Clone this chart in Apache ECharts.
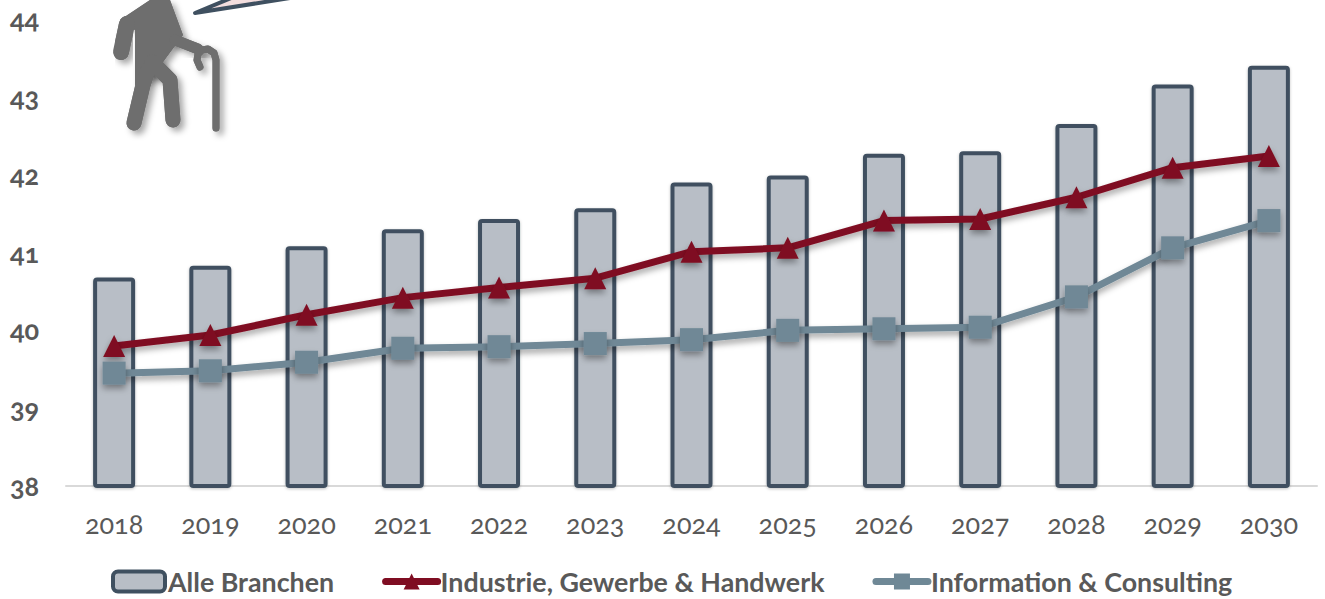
<!DOCTYPE html>
<html>
<head>
<meta charset="utf-8">
<script src="https://cdn.jsdelivr.net/npm/echarts@6/dist/echarts.min.js"></script>
<style>
html, body { margin: 0; padding: 0; background: #fff; }
#main { width: 1325px; height: 599px; }
/* zrender writes a font shorthand on each text, so this has to be important */
#main text { font-feature-settings: "onum" 1 !important; font-variant-numeric: oldstyle-nums !important; }
</style>
</head>
<body>
<div id="main"></div>
<script>
var years = ['2018', '2019', '2020', '2021', '2022', '2023', '2024', '2025', '2026', '2027', '2028', '2029', '2030'];
var alleBranchen = [40.68, 40.83, 41.08, 41.3, 41.43, 41.57, 41.9, 41.99, 42.27, 42.3, 42.65, 43.16, 43.4];
var industrie = [39.8, 39.94, 40.2, 40.42, 40.55, 40.67, 41.01, 41.06, 41.41, 41.43, 41.71, 42.09, 42.24];
var consulting = [39.45, 39.48, 39.59, 39.77, 39.79, 39.83, 39.88, 40.0, 40.02, 40.04, 40.43, 41.06, 41.41];

var fontName = 'Lato';
var grey = '#595959';
var iconGrey = '#6e6e6e';
var iconShadow = { shadowBlur: 6, shadowOffsetX: 4, shadowOffsetY: 4, shadowColor: 'rgba(0,0,0,0.35)' };

var torso = [[120, 20], [150, 0], [170, 0], [183, 35], [163, 62], [163, 72], [135, 85], [135, 30]];
var limbs = [
    { points: [[127, 24], [121, 52]], width: 16 },
    { points: [[148, 70], [143, 85], [134, 123]], width: 15 },
    { points: [[152, 62], [170, 80], [173, 120]], width: 15 },
    { points: [[175, 40], [198, 49]], width: 11 },
    { points: [[216, 128], [216, 60], [214, 53], [208, 49], [202, 50], [198, 54], [197, 60], [200, 67]], width: 7 }
];

// shadow pass first, then the flat figure on top so the parts don't shade each other
function figure(shadow) {
    var els = [{
        type: 'polygon',
        shape: { points: torso },
        style: Object.assign({ fill: iconGrey }, shadow)
    }];
    limbs.forEach(function(l) {
        els.push({
            type: 'polyline',
            shape: { points: l.points },
            style: Object.assign({ fill: 'none', stroke: iconGrey, lineWidth: l.width, lineCap: 'round', lineJoin: 'round' }, shadow)
        });
    });
    return els;
}

var myChart = echarts.init(document.getElementById('main'), null, { renderer: 'svg' });
var option = {
    animation: false,
    textStyle: { fontFamily: fontName },
    grid: { left: 66, right: 8, top: 19, bottom: 113 },
    legend: {
        left: 111,
        top: 568,
        padding: 0,
        itemWidth: 52,
        itemHeight: 20,
        itemGap: 48,
        textStyle: { fontFamily: fontName, fontWeight: 700, fontSize: 26.8, color: grey, padding: [0, 0, 0, -2] },
        data: [
            { name: 'Alle Branchen', itemStyle: { borderWidth: 4 } },
            { name: 'Industrie, Gewerbe & Handwerk', lineStyle: { width: 7 } },
            { name: 'Information & Consulting', lineStyle: { width: 7 } }
        ]
    },
    xAxis: {
        type: 'category',
        data: years,
        axisTick: { show: false },
        axisLine: { lineStyle: { color: '#d9d9d9', width: 2 } },
        axisLabel: { fontFamily: fontName, fontSize: 27, color: grey, margin: 24 }
    },
    yAxis: {
        type: 'value',
        min: 38,
        max: 44,
        interval: 1,
        splitLine: { show: false },
        axisLine: { show: false },
        axisTick: { show: false },
        axisLabel: { fontFamily: fontName, fontWeight: 700, fontSize: 27, color: grey, align: 'left', margin: 56, verticalAlign: 'bottom', lineHeight: 1 }
    },
    series: [{
        name: 'Alle Branchen',
        type: 'bar',
        data: alleBranchen,
        barWidth: 42,
        itemStyle: {
            color: '#b8bec6',
            borderColor: '#3f5060',
            borderWidth: 4,
            borderRadius: 2,
            shadowBlur: 3,
            shadowOffsetY: 1,
            shadowColor: 'rgba(0,0,0,0.25)'
        }
    }, {
        name: 'Industrie, Gewerbe & Handwerk',
        type: 'line',
        data: industrie,
        symbol: 'triangle',
        symbolSize: 22,
        showAllSymbol: true,
        itemStyle: { color: '#7f0d22', shadowBlur: 6, shadowOffsetY: 4, shadowColor: 'rgba(0,0,0,0.35)' },
        lineStyle: { color: '#7f0d22', width: 7, cap: 'round', shadowBlur: 6, shadowOffsetY: 4, shadowColor: 'rgba(0,0,0,0.35)' }
    }, {
        name: 'Information & Consulting',
        type: 'line',
        data: consulting,
        symbol: 'rect',
        symbolSize: 23,
        showAllSymbol: true,
        itemStyle: { color: '#6f8896', shadowBlur: 6, shadowOffsetY: 4, shadowColor: 'rgba(0,0,0,0.35)' },
        lineStyle: { color: '#6f8896', width: 7, cap: 'round', shadowBlur: 6, shadowOffsetY: 4, shadowColor: 'rgba(0,0,0,0.35)' }
    }],
    // the walking figure and the tail of the speech bubble are decoration, not data
    graphic: {
        elements: [{
            type: 'polygon',
            shape: { points: [[195, 13], [236, -4], [290, -2]] },
            style: { fill: '#f3dede', stroke: '#3f5060', lineWidth: 4, lineJoin: 'round' }
        }].concat(figure(iconShadow), figure({}))
    }
};
myChart.setOption(option);
</script>
</body>
</html>
